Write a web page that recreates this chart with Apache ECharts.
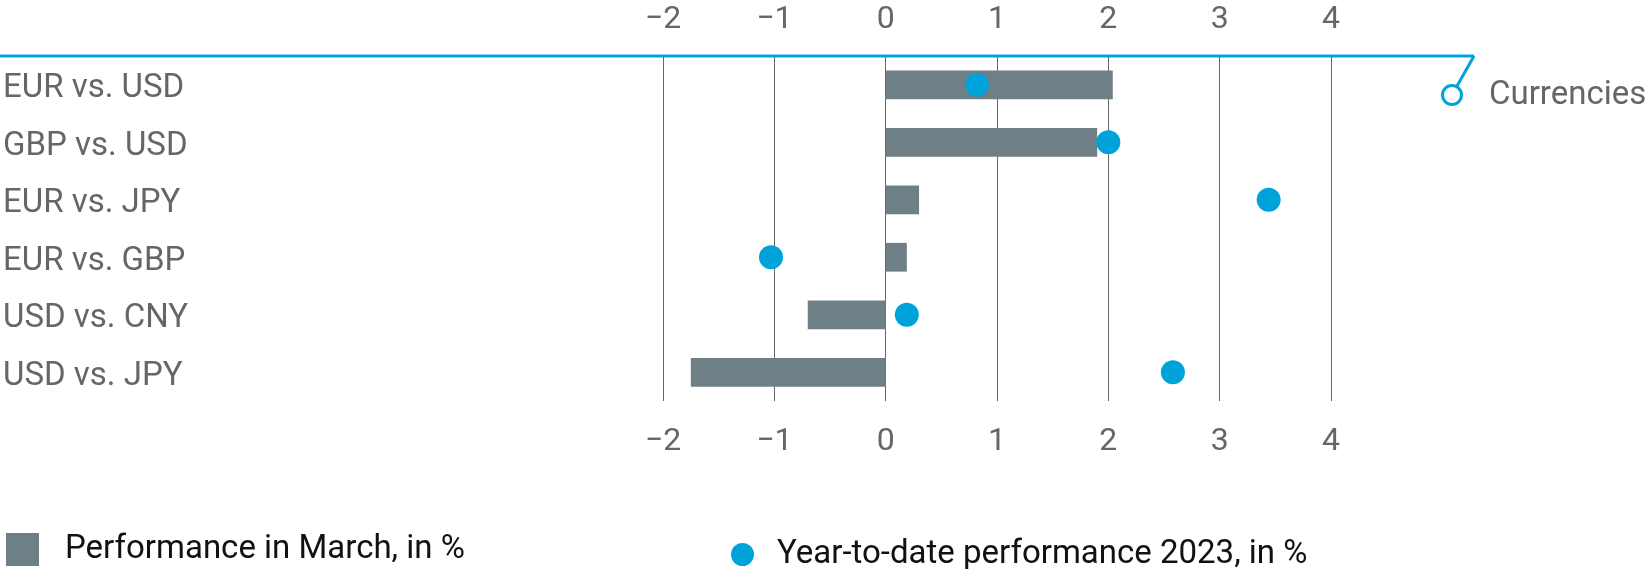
<!DOCTYPE html>
<html>
<head>
<meta charset="utf-8">
<script src="https://cdn.jsdelivr.net/npm/echarts@6/dist/echarts.min.js"></script>
<style>
  html, body { margin: 0; padding: 0; background: #fff; }
  #chart { width: 1649px; height: 569px; }
</style>
</head>
<body>
<div id="chart"></div>
<script>
// currency pairs, top to bottom
const categories = ['EUR vs. USD', 'GBP vs. USD', 'EUR vs. JPY', 'EUR vs. GBP', 'USD vs. CNY', 'USD vs. JPY'];
// performance in March, in %
const marchPerf = [2.04, 1.90, 0.30, 0.19, -0.70, -1.75];
// year-to-date performance 2023, in %
const ytdPerf = [0.82, 2.00, 3.44, -1.03, 0.19, 2.58];
// x axis ticks
const tickValues = [-2, -1, 0, 1, 2, 3, 4];
const tickLabels = ['−2', '−1', '0', '1', '2', '3', '4'];

const BLUE = '#00a3d9';
const BAR = '#6e8085';
const GREY = '#666666';
const FONT = 'Roboto';

const chart = echarts.init(document.getElementById('chart'));

const tickFmt = v => {
  const i = tickValues.indexOf(v);
  return i >= 0 ? tickLabels[i] : '';
};

const xAxisBase = {
  type: 'value',
  min: tickValues[0],
  max: tickValues[tickValues.length - 1],
  interval: 1,
  axisLine: { show: false },
  axisTick: { show: false },
  axisLabel: {
    formatter: tickFmt,
    color: GREY,
    fontFamily: FONT,
    fontSize: 32,
    verticalAlign: 'middle'
  }
};

const option = {
  animation: false,
  grid: { left: 663, right: 318, top: 56, bottom: 168, containLabel: false },
  xAxis: [
    Object.assign({}, xAxisBase, {
      position: 'top',
      splitLine: { show: true, lineStyle: { color: GREY, width: 1 } },
      axisLabel: Object.assign({}, xAxisBase.axisLabel, { margin: 36 })
    }),
    Object.assign({}, xAxisBase, {
      position: 'bottom',
      splitLine: { show: false },
      axisLabel: Object.assign({}, xAxisBase.axisLabel, { margin: 41 })
    })
  ],
  yAxis: {
    type: 'category',
    data: categories,
    inverse: true,
    axisLine: { show: false },
    axisTick: { show: false },
    axisLabel: {
      align: 'left',
      verticalAlign: 'middle',
      margin: 660,
      formatter: v => '{c|' + v + '}',
      rich: {
        c: { color: GREY, fontFamily: FONT, fontSize: 33, padding: [8, 0, 0, 0] }
      }
    }
  },
  legend: [
    {
      data: [{ name: 'Performance in March, in %', icon: 'rect' }],
      left: 1, top: 528,
      itemWidth: 33, itemHeight: 33,
      textStyle: { color: '#111', fontFamily: FONT, fontSize: 33, padding: [0, 0, 0, 21] }
    },
    {
      data: [{ name: 'Year-to-date performance 2023, in %', icon: 'circle' }],
      left: 726, top: 533,
      itemWidth: 23, itemHeight: 23,
      textStyle: { color: '#111', fontFamily: FONT, fontSize: 33, padding: [0, 0, 0, 18] }
    }
  ],
  series: [
    {
      name: 'Performance in March, in %',
      type: 'bar',
      data: marchPerf,
      barWidth: '50%',
      itemStyle: { color: BAR },
      z: 2
    },
    {
      name: 'Year-to-date performance 2023, in %',
      type: 'scatter',
      data: ytdPerf,
      symbol: 'circle',
      symbolSize: 24,
      itemStyle: { color: BLUE, opacity: 1 },
      z: 3
    }
  ],
  graphic: [
    // blue top rule with callout
    { type: 'line', shape: { x1: 0, y1: 56, x2: 1474, y2: 56 }, style: { stroke: BLUE, lineWidth: 3 }, z: 10 },
    { type: 'line', shape: { x1: 1474, y1: 56, x2: 1457, y2: 86 }, style: { stroke: BLUE, lineWidth: 3 }, z: 10 },
    { type: 'circle', shape: { cx: 1452, cy: 95, r: 9.5 }, style: { stroke: BLUE, fill: '#fff', lineWidth: 3 }, z: 10 },
    {
      type: 'text', left: 1489, top: 79, z: 10,
      style: { text: 'Currencies', fill: GREY, font: '33px Roboto' }
    }
  ]
};

chart.setOption(option);
</script>
</body>
</html>
